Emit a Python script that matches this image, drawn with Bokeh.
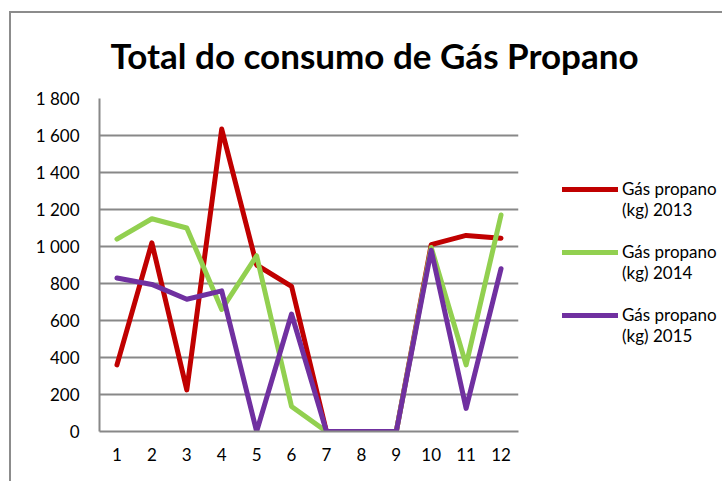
from bokeh.plotting import figure
from bokeh.models import FixedTicker, Legend, LegendItem, Range1d
from bokeh.embed import file_html
from bokeh.resources import INLINE

months = list(range(1, 13))
gas_2013 = [360, 1020, 225, 1635, 900, 785, 0, 0, 0, 1010, 1060, 1045]
gas_2014 = [1040, 1150, 1100, 660, 950, 135, 0, 0, 0, 995, 360, 1170]
gas_2015 = [830, 795, 715, 760, 0, 635, 0, 0, 0, 980, 125, 880]
series_label_line1 = ["Gás propano", "Gás propano", "Gás propano"]
series_label_line2 = ["(kg) 2013", "(kg) 2014", "(kg) 2015"]
series_colors = ["#C00000", "#92D050", "#7030A0"]
y_ticks = [0, 200, 400, 600, 800, 1000, 1200, 1400, 1600, 1800]
y_tick_labels = ["0", "200", "400", "600", "800", "1 000", "1 200", "1 400", "1 600", "1 800"]
title_text = "Total do consumo de Gás Propano"

FONT = "Lato"
GRID = "#888888"

p = figure(frame_width=419, frame_height=333,
           min_border_left=88, min_border_top=85, min_border_right=200, min_border_bottom=50,
           x_range=Range1d(0.5, 12.5), y_range=Range1d(0, 1800),
           output_backend="svg", toolbar_location=None, title=title_text)
p.styles = {"margin-left": "9px", "margin-top": "11px",
            "border-left": "2px solid #8c8c8c", "border-top": "2px solid #8c8c8c"}

p.title.text_font = FONT
p.title.text_font_size = "35px"
p.title.text_font_style = "bold"
p.title.text_color = "#000000"
p.title.align = "left"
p.title.vertical_align = "top"
p.title.offset = 11
p.title.standoff = 41

p.outline_line_color = None
p.xgrid.grid_line_color = None
p.ygrid.grid_line_color = GRID
p.ygrid.grid_line_width = 2
p.ygrid.ticker = FixedTicker(ticks=y_ticks)

p.yaxis.ticker = FixedTicker(ticks=y_ticks)
p.yaxis.major_label_overrides = {t: l for t, l in zip(y_ticks, y_tick_labels)}
p.xaxis.ticker = FixedTicker(ticks=months)
for ax in (p.xaxis, p.yaxis):
    ax.axis_line_color = GRID
    ax.axis_line_width = 2
    ax.major_tick_line_color = None
    ax.minor_tick_line_color = None
    ax.major_label_text_font = FONT
    ax.major_label_text_font_size = "17px"
    ax.major_label_text_color = "#000000"
p.yaxis.major_label_standoff = 14
p.xaxis.major_label_standoff = 10

renderers = []
for vals, col in zip([gas_2013, gas_2014, gas_2015], series_colors):
    r = p.line(months, vals, line_color=col, line_width=5, line_cap="round", line_join="round")
    renderers.append(r)

# leading blank line keeps the legend line level with the first text line
labels = [" \n" + a + "\n" + b for a, b in zip(series_label_line1, series_label_line2)]
legend = Legend(items=[LegendItem(label=l, renderers=[r]) for l, r in zip(labels, renderers)],
                location=(44, 85), padding=0, margin=0, border_line_color=None,
                background_fill_alpha=0, glyph_width=56, glyph_height=22,
                label_text_font=FONT, label_text_font_size="17px", label_text_line_height=1.3,
                label_text_color="#000000", label_standoff=4, spacing=-18)
p.add_layout(legend, "right")

open("out.html", "w").write(file_html(p, INLINE))
